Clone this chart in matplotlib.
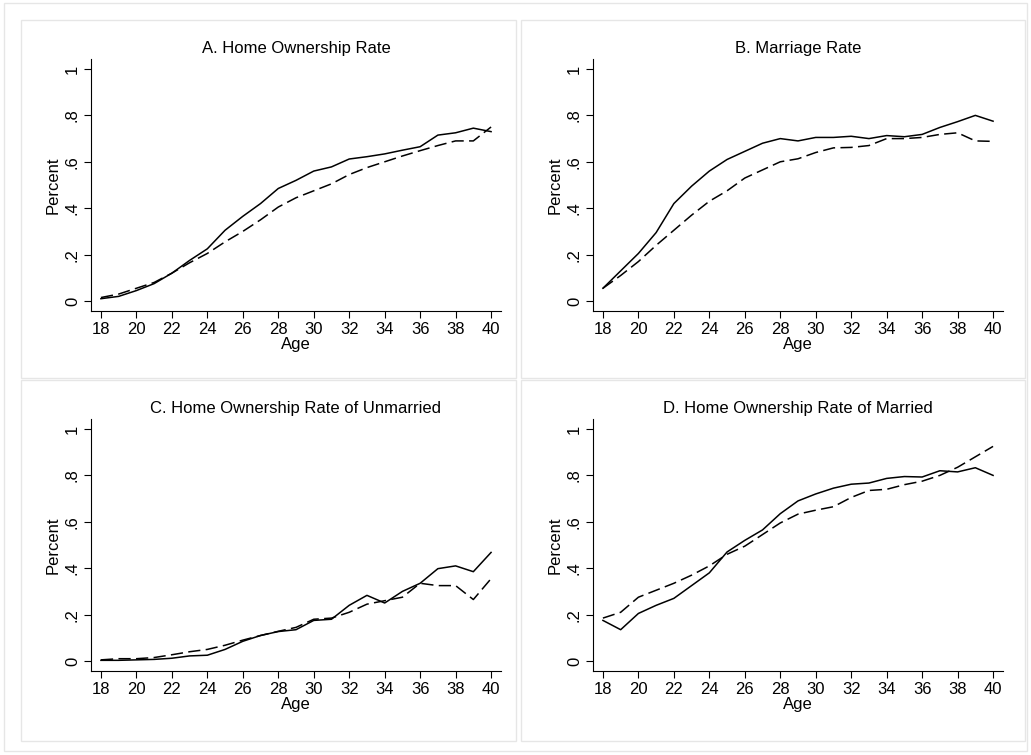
import matplotlib
matplotlib.use("Agg")
from matplotlib import pyplot as plt
from matplotlib.patches import Rectangle

plt.rcParams['font.family'] = ['Liberation Sans', 'DejaVu Sans']

# ages on the x axis
age = list(range(18, 41))

# A. home ownership rate
own_solid = [0.01, 0.02, 0.045, 0.075, 0.12, 0.175, 0.225, 0.305, 0.365, 0.42, 0.485, 0.52,
             0.56, 0.578, 0.612, 0.622, 0.634, 0.65, 0.665, 0.715, 0.725, 0.745, 0.73]
own_dash = [0.015, 0.03, 0.055, 0.08, 0.12, 0.165, 0.205, 0.255, 0.30, 0.35, 0.405, 0.445,
            0.475, 0.505, 0.545, 0.575, 0.60, 0.625, 0.648, 0.67, 0.69, 0.69, 0.75]

# B. marriage rate
mar_solid = [0.055, 0.13, 0.205, 0.295, 0.42, 0.495, 0.56, 0.61, 0.645, 0.68, 0.70, 0.69,
             0.705, 0.705, 0.71, 0.70, 0.713, 0.708, 0.718, 0.748, 0.773, 0.80, 0.775]
mar_dash = [0.055, 0.11, 0.17, 0.24, 0.305, 0.37, 0.43, 0.475, 0.53, 0.565, 0.60, 0.613,
            0.64, 0.66, 0.662, 0.67, 0.70, 0.70, 0.705, 0.718, 0.725, 0.69, 0.688]

# C. home ownership of unmarried
unm_solid = [0.003, 0.003, 0.005, 0.007, 0.012, 0.022, 0.025, 0.05, 0.085, 0.11, 0.127, 0.135,
             0.175, 0.18, 0.24, 0.283, 0.25, 0.30, 0.335, 0.398, 0.41, 0.385, 0.468]
unm_dash = [0.005, 0.01, 0.01, 0.015, 0.027, 0.04, 0.05, 0.068, 0.09, 0.11, 0.128, 0.145,
            0.18, 0.185, 0.21, 0.245, 0.26, 0.275, 0.335, 0.325, 0.325, 0.265, 0.355]

# D. home ownership of married
mrd_solid = [0.175, 0.135, 0.205, 0.24, 0.27, 0.325, 0.38, 0.47, 0.52, 0.565, 0.635, 0.69,
             0.72, 0.745, 0.762, 0.767, 0.787, 0.795, 0.793, 0.82, 0.815, 0.833, 0.80]
mrd_dash = [0.185, 0.21, 0.275, 0.305, 0.335, 0.37, 0.41, 0.46, 0.495, 0.545, 0.595, 0.633,
            0.65, 0.665, 0.705, 0.735, 0.74, 0.76, 0.775, 0.80, 0.835, 0.88, 0.925]

titles = ["A. Home Ownership Rate", "B. Marriage Rate",
          "C. Home Ownership Rate of Unmarried", "D. Home Ownership Rate of Married"]
series = [(own_solid, own_dash), (mar_solid, mar_dash),
          (unm_solid, unm_dash), (mrd_solid, mrd_dash)]

xticks = list(range(18, 41, 2))
yticks = [0, 0.2, 0.4, 0.6, 0.8, 1.0]
ylabels = ["0", ".2", ".4", ".6", ".8", "1"]

W, H = 1031, 755
fig = plt.figure(figsize=(W / 100, H / 100), dpi=100)

def px_rect(x0, y0, x1, y1):
    return Rectangle((x0 / W, 1 - y1 / H), (x1 - x0) / W, (y1 - y0) / H,
                     transform=fig.transFigure, fill=False, edgecolor='#e6e6e6', lw=1)

# outer frame and panel frames
fig.patches.append(px_rect(4, 3, 1027, 751))
for box in [(21, 20, 516, 378), (521, 20, 1025, 378), (21, 380, 516, 741), (521, 380, 1025, 741)]:
    fig.patches.append(px_rect(*box))

# axes positions in pixels: left, top, right, bottom
pos = [(91, 59, 501, 311), (593, 59, 1003, 311), (91, 419, 501, 671), (593, 419, 1003, 671)]

for (l, t, r, b), title, (s, d) in zip(pos, titles, series):
    ax = fig.add_axes([l / W, 1 - b / H, (r - l) / W, (b - t) / H])
    ax.plot(age, s, color='black', lw=1.1)
    ax.plot(age, d, color='black', lw=1.1, dashes=(8, 3.5))
    ax.set_xlim(17.44, 40.56)
    ax.set_ylim(-0.043, 1.043)
    ax.set_xticks(xticks)
    ax.set_yticks(yticks)
    ax.set_yticklabels(ylabels, rotation=90, va='center')
    ax.tick_params(direction='out', length=5, width=0.8, labelsize=12, pad=3)
    for side in ['top', 'right']:
        ax.spines[side].set_visible(False)
    ax.spines['left'].set_linewidth(0.8)
    ax.spines['bottom'].set_linewidth(0.8)
    ax.set_title(title, fontsize=12, pad=4)
    ax.set_xlabel("Age", fontsize=12, labelpad=0)
    ax.set_ylabel("Percent", fontsize=12, labelpad=3)

fig.savefig("out.png", dpi=100, facecolor='white')
